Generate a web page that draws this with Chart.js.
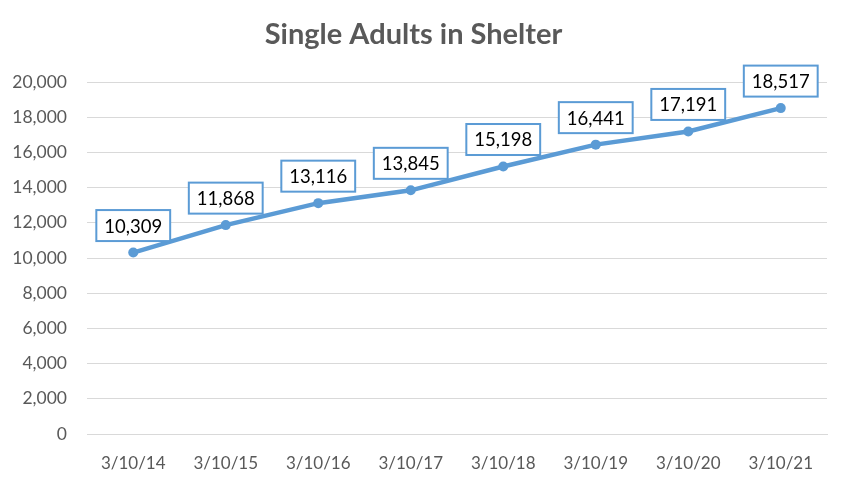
<!DOCTYPE html>
<html>
<head>
<meta charset="utf-8">
<script src="https://cdn.jsdelivr.net/npm/chart.js@4"></script>
<style>
html,body{margin:0;padding:0;background:#fff;}
#wrap{width:850px;height:484px;}
</style>
</head>
<body>
<div id="wrap"><canvas id="c" width="850" height="484"></canvas></div>
<script>
const categories = ["3/10/14","3/10/15","3/10/16","3/10/17","3/10/18","3/10/19","3/10/20","3/10/21"];
const singleAdults = [10309, 11868, 13116, 13845, 15198, 16441, 17191, 18517];
const yTicks = [0,2000,4000,6000,8000,10000,12000,14000,16000,18000,20000];

const FONT = "Lato, 'Liberation Sans', sans-serif";

const labelPlugin = {
  id: 'boxLabels',
  afterDatasetsDraw(chart) {
    const ctx = chart.ctx;
    const meta = chart.getDatasetMeta(0);
    const data = chart.data.datasets[0].data;
    ctx.save();
    ctx.font = "18.5px " + FONT;
    ctx.textAlign = 'center';
    ctx.textBaseline = 'middle';
    meta.data.forEach((pt, i) => {
      const txt = data[i].toLocaleString('en-US');
      const w = ctx.measureText(txt).width + 16;
      const h = 31;
      const cx = pt.x, cy = pt.y - 27;
      ctx.fillStyle = '#ffffff';
      ctx.fillRect(cx - w/2, cy - h/2, w, h);
      ctx.strokeStyle = '#5b9bd5';
      ctx.lineWidth = 2;
      ctx.strokeRect(cx - w/2, cy - h/2, w, h);
      ctx.fillStyle = '#000000';
      ctx.fillText(txt, cx, cy + 1);
    });
    ctx.restore();
  }
};

new Chart(document.getElementById('c'), {
  type: 'line',
  data: {
    labels: categories,
    datasets: [{
      label: 'Single Adults in Shelter',
      data: singleAdults,
      borderColor: '#5b9bd5',
      backgroundColor: '#5b9bd5',
      borderWidth: 4.5,
      pointRadius: 5,
      pointBorderWidth: 0,
      pointBackgroundColor: '#5b9bd5',
      tension: 0
    }]
  },
  options: {
    responsive: false,
    animation: false,
    devicePixelRatio: 1,
    layout: { padding: { left: 0, right: 23, top: 0, bottom: 0 } },
    plugins: {
      legend: { display: false },
      tooltip: { enabled: false },
      title: {
        display: true,
        text: 'Single Adults in Shelter',
        color: '#595959',
        font: { family: FONT, size: 29, weight: 'bold' },
        padding: { top: 17.6, bottom: 29.6 }
      }
    },
    scales: {
      x: {
        offset: true,
        afterFit(scale) { scale.height = 50; },
        grid: { display: false, drawTicks: false },
        border: { display: true, color: '#d9d9d9', width: 1 },
        ticks: { color: '#595959', font: { family: FONT, size: 17 }, padding: 19, maxRotation: 0 }
      },
      y: {
        min: 0, max: 20000,
        afterFit(scale) { scale.width = 87; },
        afterBuildTicks(scale) { scale.ticks = yTicks.map(v => ({ value: v })); },
        grid: { color: '#d9d9d9', drawTicks: false, lineWidth: 1 },
        border: { display: false },
        ticks: {
          color: '#595959',
          font: { family: FONT, size: 17.5 },
          padding: 20,
          callback: v => v.toLocaleString('en-US')
        }
      }
    }
  },
  plugins: [labelPlugin]
});
</script>
</body>
</html>
